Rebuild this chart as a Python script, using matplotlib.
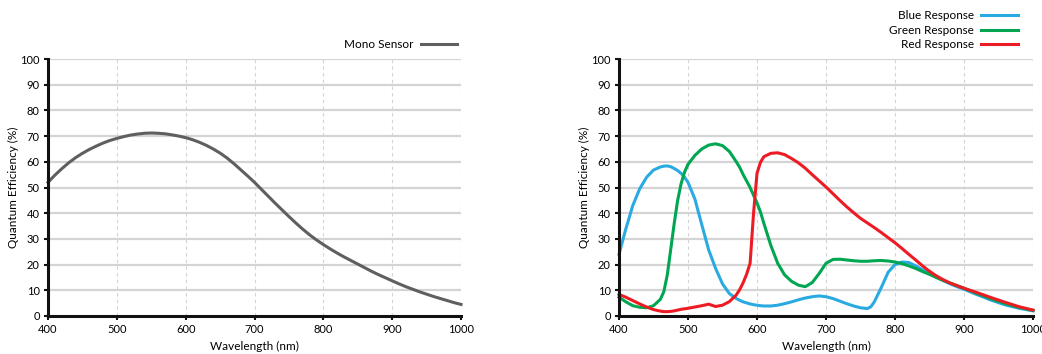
import matplotlib.pyplot as plt

plt.rcParams['font.family'] = ['Lato', 'DejaVu Sans']

# ── data ─────────────────────────────────────────────
mono_wl = list(range(400, 1001, 10))
mono_qe = [52, 54.8, 57.3, 59.6, 61.6, 63.3, 64.8, 66.1, 67.3, 68.3,
           69.1, 69.8, 70.4, 70.8, 71.1, 71.2, 71.1, 70.9, 70.5, 70.0,
           69.4, 68.6, 67.6, 66.4, 65.0, 63.4, 61.5, 59.3, 56.9, 54.5,
           52.0, 49.3, 46.6, 43.9, 41.3, 38.7, 36.2, 33.8, 31.6, 29.6,
           27.8, 26.1, 24.5, 23.0, 21.6, 20.2, 18.8, 17.4, 16.1, 14.9,
           13.7, 12.5, 11.4, 10.4, 9.4, 8.5, 7.6, 6.8, 6.0, 5.2, 4.5]

wl = [400, 410, 420, 430, 440, 450, 460, 465, 470, 475, 480, 485, 490, 495,
      500, 510, 520, 530, 540, 550, 560, 570, 575, 580, 585, 590, 595, 600,
      605, 610, 620, 630, 640, 650, 660, 670, 680, 690, 700, 710, 720, 730,
      740, 750, 760, 765, 770, 780, 790, 800, 810, 820, 830, 840, 850, 860,
      870, 880, 890, 900, 920, 940, 960, 980, 1000]

blue = [24, 34, 43, 49.5, 54, 56.8, 58, 58.3, 58.4, 58.1, 57.4, 56.6, 55.5, 54,
        52, 45.5, 35.5, 25.7, 18.5, 12.5, 8.7, 6.8, 6.1, 5.5, 5.1, 4.7, 4.4, 4.2,
        4.0, 3.9, 3.9, 4.2, 4.8, 5.5, 6.3, 7.0, 7.5, 7.8, 7.5, 6.8, 5.8, 4.8,
        3.9, 3.2, 2.9, 3.6, 5.5, 11, 17, 20, 21, 20.8, 19.5, 18, 16.5, 15,
        13.8, 12.5, 11.4, 10.4, 8.2, 6.1, 4.3, 3.0, 2.0]

green = [7.3, 5.5, 4.0, 3.4, 3.2, 4.0, 6.5, 9.5, 16, 26, 36, 45, 51.5, 56,
         59, 62.5, 65, 66.5, 67, 66.3, 64, 60, 57.8, 55, 52.5, 50, 47, 44,
         40.5, 36, 27.5, 20.5, 16, 13.5, 12, 11.4, 13, 16.5, 20.5, 22, 22.1, 21.8,
         21.5, 21.3, 21.3, 21.4, 21.5, 21.6, 21.4, 21, 20.4, 19.5, 18.5, 17.3, 16.2, 15,
         13.8, 12.8, 11.8, 10.8, 8.6, 6.6, 4.8, 3.3, 2.2]

red = [8.4, 7.3, 6.0, 4.7, 3.5, 2.5, 1.9, 1.7, 1.7, 1.8, 2.0, 2.3, 2.6, 2.8,
       3.0, 3.5, 4.0, 4.6, 3.7, 4.2, 5.6, 8.2, 10.3, 13, 16.3, 20.5, 40, 55.5,
       59.8, 62, 63.3, 63.5, 62.8, 61.3, 59.6, 57.5, 55, 52.6, 50.2, 47.6, 45, 42.5,
       40.2, 38, 36.2, 35.3, 34.4, 32.5, 30.5, 28.5, 26.3, 24, 21.8, 19.5, 17.4, 15.6,
       14.1, 12.8, 11.8, 10.8, 9, 7.1, 5.3, 3.6, 2.3]

x_ticks = list(range(400, 1001, 100))
y_ticks = list(range(0, 101, 10))

# ── figure ───────────────────────────────────────────
fig = plt.figure(figsize=(10.42, 3.54), dpi=100)
ax1 = fig.add_axes([48 / 1042, 38 / 354, 413 / 1042, 257 / 354])
ax2 = fig.add_axes([619 / 1042, 38 / 354, 414 / 1042, 257 / 354])


def style(ax):
    ax.set_xlim(400, 1000)
    ax.set_ylim(0, 100)
    ax.set_xticks(x_ticks)
    ax.set_yticks(y_ticks)
    for y in y_ticks[1:]:
        ax.axhline(y, color='#d4d4d4', lw=1.6, zorder=0)
    for x in x_ticks[1:]:
        ax.axvline(x, color='#d4d4d4', lw=0.8, ls=(0, (3, 3)), zorder=0)
    for s in ['top', 'right']:
        ax.spines[s].set_visible(False)
    for s in ['left', 'bottom']:
        ax.spines[s].set_linewidth(2.2)
        ax.spines[s].set_color('#111111')
    ax.tick_params(length=3, width=1.5, labelsize=8, color='#111111', pad=3)
    ax.set_xlabel("Wavelength (nm)", fontsize=8.5, labelpad=4)
    ax.set_ylabel("Quantum Efficiency (%)", fontsize=8.5, labelpad=1)


style(ax1)
style(ax2)

ax1.plot(mono_wl, mono_qe, color='#5f5f5f', lw=2.2, label='Mono Sensor', clip_on=False)
ax1.legend(loc='lower right', bbox_to_anchor=(1.0, 1.02), frameon=False, fontsize=8.5,
           markerfirst=False, handlelength=3.1, handletextpad=0.6,
           borderaxespad=0.1, borderpad=0.2)

ax2.plot(wl, blue, color='#29abe2', lw=2.2, label='Blue Response', clip_on=False)
ax2.plot(wl, green, color='#00a651', lw=2.2, label='Green Response', clip_on=False)
ax2.plot(wl, red, color='#ed1c24', lw=2.2, label='Red Response', clip_on=False)
ax2.legend(loc='lower right', bbox_to_anchor=(0.972, 1.02), frameon=False, fontsize=8.5,
           markerfirst=False, handlelength=3.1, handletextpad=0.6,
           borderaxespad=0.1, borderpad=0.2, labelspacing=0.3)

fig.savefig("out.png", dpi=100)
